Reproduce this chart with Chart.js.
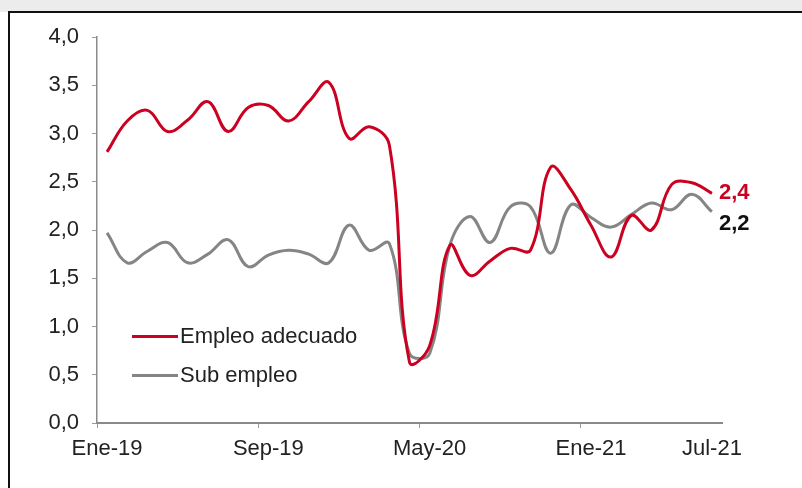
<!DOCTYPE html>
<html>
<head>
<meta charset="utf-8">
<script src="https://cdn.jsdelivr.net/npm/chart.js@4.4.1/dist/chart.umd.min.js"></script>
<style>
  body { margin: 0; background: #fff; }
  #wrap { position: relative; width: 802px; height: 488px; overflow: hidden; font-family: "Liberation Sans", Arial, sans-serif; }
  #topband { position: absolute; left: 0; top: 0; width: 802px; height: 12px; background: #ececec; }
  #frame { position: absolute; left: 8px; top: 11px; width: 800px; height: 490px; border-top: 2px solid #111; border-left: 2px solid #111; }
  canvas { position: absolute; left: 0; top: 0; }
  .leg { position: absolute; left: 132px; height: 24px; display: flex; align-items: center; font-size: 22px; color: #222; white-space: nowrap; }
  .leg span.line { display: inline-block; width: 46px; height: 3px; margin-right: 2px; }
</style>
</head>
<body>
<div id="wrap">
  <div id="topband"></div>
  <div id="frame"></div>
  <canvas id="chart" width="802" height="488"></canvas>
  <div class="leg" style="top:324px"><span class="line" style="background:#cc0020"></span>Empleo adecuado</div>
  <div class="leg" style="top:363px"><span class="line" style="background:#858585"></span>Sub empleo</div>
</div>
<script>
const months = ["Ene", "Feb", "Mar", "Abr", "May", "Jun", "Jul", "Ago", "Sep", "Oct", "Nov", "Dic"]
const categories = []
for (let i = 0; i < 31; i++) {
    categories.push(months[i % 12] + "-" + String(19 + Math.floor(i / 12)))
}
const shownLabels = ["Ene-19", "Sep-19", "May-20", "Ene-21", "Jul-21"]

const empleoAdecuado = [2.81, 3.13, 3.24, 3.02, 3.14, 3.33, 3.02, 3.27, 3.29, 3.13, 3.33, 3.53, 2.95, 3.07, 2.88,
    0.63, 0.80, 1.84, 1.53, 1.68, 1.81, 1.79, 2.65, 2.42, 2.05, 1.72, 2.15, 2.00, 2.47, 2.49, 2.38]
const subEmpleo = [1.97, 1.66, 1.78, 1.87, 1.66, 1.75, 1.90, 1.62, 1.74, 1.79, 1.75, 1.66, 2.05, 1.79, 1.86,
    0.72, 0.72, 1.84, 2.14, 1.87, 2.24, 2.24, 1.76, 2.26, 2.13, 2.03, 2.16, 2.28, 2.21, 2.37, 2.19]

const font = "'Liberation Sans', Arial, sans-serif"

function formatComma(value) {
    return Number(value).toFixed(1).replace(".", ",")
}

// etiqueta al final de cada serie
const endLabels = {
    id: "endLabels",
    afterDatasetsDraw(chart) {
        const ctx = chart.ctx
        chart.data.datasets.forEach((dataset, i) => {
            const meta = chart.getDatasetMeta(i)
            const lastPoint = meta.data[meta.data.length - 1]
            const lastValue = dataset.data[dataset.data.length - 1]
            ctx.save()
            ctx.font = "bold 22px " + font
            ctx.fillStyle = dataset.endLabelColor
            ctx.textBaseline = "middle"
            ctx.fillText(formatComma(lastValue), lastPoint.x + 7, lastPoint.y + dataset.endLabelShift)
            ctx.restore()
        })
    },
}

new Chart(document.getElementById("chart"), {
    type: "line",
    data: {
        labels: categories,
        datasets: [
            {
                label: "Empleo adecuado",
                data: empleoAdecuado,
                borderColor: "#cc0020",
                borderWidth: 3,
                pointRadius: 0,
                tension: 0.4,
                endLabelColor: "#cc0020",
                endLabelShift: 0,
            },
            {
                label: "Sub empleo",
                data: subEmpleo,
                borderColor: "#858585",
                borderWidth: 3,
                pointRadius: 0,
                tension: 0.4,
                endLabelColor: "#111",
                endLabelShift: 12,
            },
        ],
    },
    options: {
        responsive: false,
        animation: false,
        layout: { padding: { left: 0, top: 37, right: 80, bottom: 0 } },
        plugins: {
            legend: { display: false },
            tooltip: { enabled: false },
        },
        scales: {
            x: {
                offset: true,
                afterFit: (scale) => { scale.height = 65 },
                border: { color: "#8a8a8a", width: 2 },
                grid: {
                    offset: true,
                    drawOnChartArea: false,
                    tickLength: 5,
                    color: (c) => [0, 8, 16, 24].includes(c.index) ? "#9a9a9a" : "transparent",
                },
                ticks: {
                    autoSkip: false,
                    maxRotation: 0,
                    padding: 8,
                    color: "#222",
                    font: { family: font, size: 22 },
                    callback: function (value, index) {
                        const label = this.getLabelForValue(value)
                        return shownLabels.includes(label) ? label : ""
                    },
                },
            },
            y: {
                min: 0,
                max: 4,
                afterFit: (scale) => { scale.width = 97 },
                border: { color: "#8a8a8a", width: 1.5 },
                grid: { drawOnChartArea: false, tickLength: 5, color: "#9a9a9a" },
                ticks: {
                    stepSize: 0.5,
                    padding: 13,
                    color: "#222",
                    font: { family: font, size: 22 },
                    callback: (value) => formatComma(value),
                },
            },
        },
    },
    plugins: [endLabels],
})
</script>
</body>
</html>
